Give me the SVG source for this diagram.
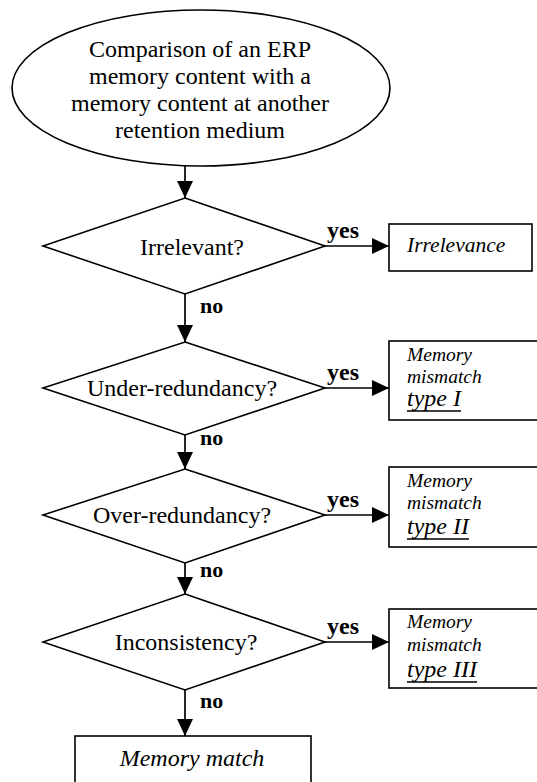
<svg xmlns="http://www.w3.org/2000/svg" width="537" height="782" viewBox="0 0 537 782" font-family="'Liberation Serif', 'Times New Roman', serif">
<defs>
<marker id="ah" markerUnits="userSpaceOnUse" markerWidth="18" markerHeight="16" refX="17" refY="8" orient="auto">
<path d="M0,0 L17,8 L0,16 Z" fill="#000"/>
</marker>
<style>
.sh{fill:#fff;stroke:#000;stroke-width:1.6}
.cn{stroke:#000;stroke-width:1.7;fill:none;marker-end:url(#ah)}
.ul{stroke:#000;stroke-width:1.3}
</style>
</defs>
<rect width="537" height="782" fill="#fff"/>
<g id="connectors">
<line class="cn" x1="185" y1="166" x2="185" y2="198"/>
<line class="cn" x1="185" y1="294" x2="185" y2="342"/>
<line class="cn" x1="185" y1="435" x2="185" y2="469"/>
<line class="cn" x1="185" y1="563" x2="185" y2="594"/>
<line class="cn" x1="185" y1="690" x2="185" y2="736"/>
<line class="cn" x1="325" y1="246" x2="389" y2="246"/>
<line class="cn" x1="325" y1="388" x2="389" y2="388"/>
<line class="cn" x1="325" y1="515" x2="389" y2="515"/>
<line class="cn" x1="325" y1="642" x2="389" y2="642"/>
<g font-family="'Liberation Serif', serif" font-weight="bold" fill="#000">
<text font-size="24" x="327" y="238">yes</text>
<text font-size="24" x="327" y="380">yes</text>
<text font-size="24" x="327" y="507">yes</text>
<text font-size="24" x="327" y="634">yes</text>
<text font-size="22" x="200" y="313">no</text>
<text font-size="22" x="200" y="445">no</text>
<text font-size="22" x="200" y="577">no</text>
<text font-size="22" x="200" y="708">no</text>
</g>
</g>
<g id="start">
<ellipse class="sh" cx="201" cy="88" rx="189" ry="78"/>
<g font-family="'Liberation Serif', serif" font-size="24" text-anchor="middle" fill="#000">
<text x="200" y="57">Comparison of an ERP</text>
<text x="200" y="84">memory content with a</text>
<text x="200" y="111">memory content at another</text>
<text x="200" y="138">retention medium</text>
</g>
</g>
<g id="d1">
<polygon class="sh" points="185,198 325,246 185,294 43,246"/>
<text font-family="'Liberation Serif', serif" font-size="24" text-anchor="middle" x="192" y="255">Irrelevant?</text>
</g>
<g id="d2">
<polygon class="sh" points="185,342 325,388 185,435 43,388"/>
<text font-family="'Liberation Serif', serif" font-size="24" text-anchor="middle" x="182" y="396">Under-redundancy?</text>
</g>
<g id="d3">
<polygon class="sh" points="185,469 325,515 185,563 43,515"/>
<text font-family="'Liberation Serif', serif" font-size="24" text-anchor="middle" x="182" y="523">Over-redundancy?</text>
</g>
<g id="d4">
<polygon class="sh" points="185,594 325,642 185,690 43,642"/>
<text font-family="'Liberation Serif', serif" font-size="24" text-anchor="middle" x="186" y="650">Inconsistency?</text>
</g>
<g id="irrelevance">
<rect class="sh" x="389" y="224" width="143" height="47"/>
<text font-family="'Liberation Serif', serif" font-style="italic" font-size="21.5" x="407" y="252">Irrelevance</text>
</g>
<g id="mm1" font-family="'Liberation Serif', serif" font-style="italic">
<rect class="sh" x="389" y="341" width="155" height="79"/>
<text font-size="19.5" x="407" y="361">Memory</text>
<text font-size="19.5" x="407" y="383">mismatch</text>
<text font-size="24" x="407" y="406">type I</text>
<line class="ul" x1="407" y1="411" x2="461" y2="411"/>
</g>
<g id="mm2" font-family="'Liberation Serif', serif" font-style="italic">
<rect class="sh" x="389" y="467" width="155" height="80"/>
<text font-size="19.5" x="407" y="487">Memory</text>
<text font-size="19.5" x="407" y="509">mismatch</text>
<text font-size="24" x="407" y="534">type II</text>
<line class="ul" x1="407" y1="539" x2="469" y2="539"/>
</g>
<g id="mm3" font-family="'Liberation Serif', serif" font-style="italic">
<rect class="sh" x="389" y="609" width="155" height="79"/>
<text font-size="19.5" x="407" y="628">Memory</text>
<text font-size="19.5" x="407" y="651">mismatch</text>
<text font-size="24" x="407" y="677">type III</text>
<line class="ul" x1="407" y1="682" x2="477" y2="682"/>
</g>
<g id="match">
<rect class="sh" x="75" y="736" width="236" height="60"/>
<text font-family="'Liberation Serif', serif" font-style="italic" font-size="24" text-anchor="middle" x="192" y="766">Memory match</text>
</g>
</svg>
